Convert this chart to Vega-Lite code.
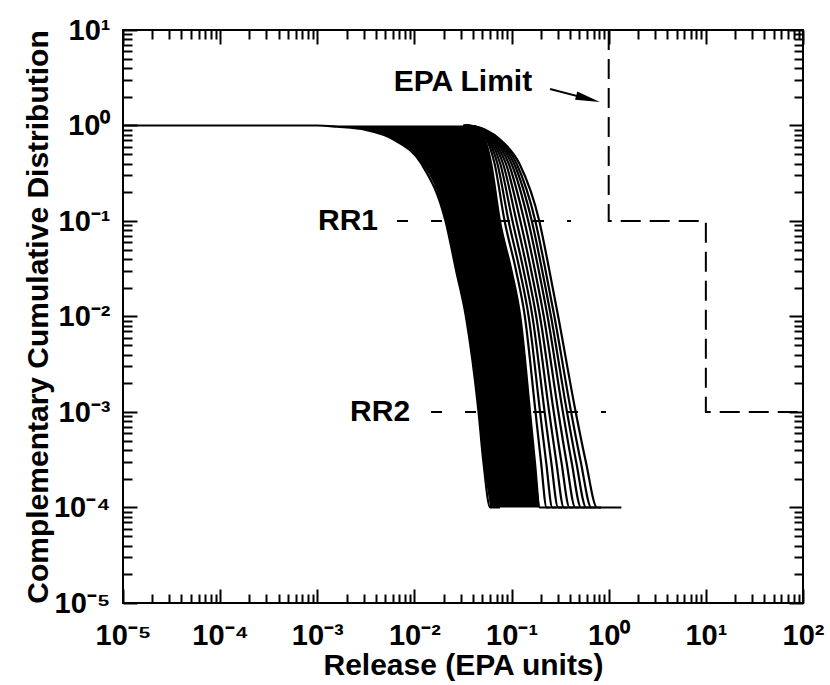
{
  "$schema": "https://vega.github.io/schema/vega-lite/v6.json",
  "width": 680,
  "height": 573,
  "autosize": {"type": "none"},
  "padding": {"left": 123, "top": 30, "right": 27, "bottom": 82},
  "background": "white",
  "config": {
    "view": {"stroke": "black", "strokeWidth": 2},
    "font": "Liberation Sans",
    "axis": {"grid": false, "domain": false, "labelColor": "black", "titleColor": "black", "tickColor": "black", "labelFont": "Liberation Sans", "titleFont": "Liberation Sans"}
  },
  "datasets": {
    "band": [
      {"y": 1, "lo": 0.001, "hi": 0.03162},
      {"y": 0.97, "lo": 0.001585, "hi": 0.03981},
      {"y": 0.9, "lo": 0.003162, "hi": 0.04571},
      {"y": 0.7, "lo": 0.00631, "hi": 0.0537},
      {"y": 0.4, "lo": 0.01175, "hi": 0.06166},
      {"y": 0.1, "lo": 0.02089, "hi": 0.07586},
      {"y": 0.03, "lo": 0.02692, "hi": 0.1},
      {"y": 0.01, "lo": 0.03388, "hi": 0.123},
      {"y": 0.001, "lo": 0.04571, "hi": 0.1549},
      {"y": 0.0003, "lo": 0.05129, "hi": 0.1738},
      {"y": 0.0001, "lo": 0.06026, "hi": 0.195}
    ],
    "curves": [
      {"c": "L", "x": 0.00001, "y": 1}, {"c": "L", "x": 0.001, "y": 1}, {"c": "L", "x": 0.001585, "y": 0.97}, {"c": "L", "x": 0.003162, "y": 0.9}, {"c": "L", "x": 0.00631, "y": 0.7}, {"c": "L", "x": 0.01175, "y": 0.4}, {"c": "L", "x": 0.02089, "y": 0.1}, {"c": "L", "x": 0.02692, "y": 0.03}, {"c": "L", "x": 0.03388, "y": 0.01}, {"c": "L", "x": 0.04571, "y": 0.001}, {"c": "L", "x": 0.05129, "y": 0.0003}, {"c": "L", "x": 0.06026, "y": 0.0001}, {"c": "L", "x": 0.07586, "y": 0.0001},
      {"c": "M", "x": 0.03162, "y": 1}, {"c": "M", "x": 0.03981, "y": 0.97}, {"c": "M", "x": 0.04571, "y": 0.9}, {"c": "M", "x": 0.0537, "y": 0.7}, {"c": "M", "x": 0.06166, "y": 0.4}, {"c": "M", "x": 0.07586, "y": 0.1}, {"c": "M", "x": 0.1, "y": 0.03}, {"c": "M", "x": 0.123, "y": 0.01}, {"c": "M", "x": 0.1549, "y": 0.001}, {"c": "M", "x": 0.1738, "y": 0.0003}, {"c": "M", "x": 0.195, "y": 0.0001}, {"c": "M", "x": 0.2455, "y": 0.0001},
      {"c": "s1", "x": 0.0321, "y": 1}, {"c": "s1", "x": 0.0403, "y": 0.97}, {"c": "s1", "x": 0.0466, "y": 0.9}, {"c": "s1", "x": 0.0561, "y": 0.7}, {"c": "s1", "x": 0.0668, "y": 0.4}, {"c": "s1", "x": 0.0848, "y": 0.1}, {"c": "s1", "x": 0.1114, "y": 0.03}, {"c": "s1", "x": 0.137, "y": 0.01}, {"c": "s1", "x": 0.1764, "y": 0.001}, {"c": "s1", "x": 0.2009, "y": 0.0003}, {"c": "s1", "x": 0.2295, "y": 0.0001}, {"c": "s1", "x": 0.2892, "y": 0.0001},
      {"c": "s2", "x": 0.0324, "y": 1}, {"c": "s2", "x": 0.0406, "y": 0.97}, {"c": "s2", "x": 0.0474, "y": 0.9}, {"c": "s2", "x": 0.0582, "y": 0.7}, {"c": "s2", "x": 0.0714, "y": 0.4}, {"c": "s2", "x": 0.0931, "y": 0.1}, {"c": "s2", "x": 0.1219, "y": 0.03}, {"c": "s2", "x": 0.1499, "y": 0.01}, {"c": "s2", "x": 0.1965, "y": 0.001}, {"c": "s2", "x": 0.2267, "y": 0.0003}, {"c": "s2", "x": 0.2629, "y": 0.0001}, {"c": "s2", "x": 0.3313, "y": 0.0001},
      {"c": "s3", "x": 0.0328, "y": 1}, {"c": "s3", "x": 0.041, "y": 0.97}, {"c": "s3", "x": 0.0481, "y": 0.9}, {"c": "s3", "x": 0.0604, "y": 0.7}, {"c": "s3", "x": 0.0764, "y": 0.4}, {"c": "s3", "x": 0.1022, "y": 0.1}, {"c": "s3", "x": 0.1333, "y": 0.03}, {"c": "s3", "x": 0.164, "y": 0.01}, {"c": "s3", "x": 0.219, "y": 0.001}, {"c": "s3", "x": 0.2559, "y": 0.0003}, {"c": "s3", "x": 0.3012, "y": 0.0001}, {"c": "s3", "x": 0.3795, "y": 0.0001},
      {"c": "s4", "x": 0.0332, "y": 1}, {"c": "s4", "x": 0.0414, "y": 0.97}, {"c": "s4", "x": 0.0489, "y": 0.9}, {"c": "s4", "x": 0.0627, "y": 0.7}, {"c": "s4", "x": 0.0816, "y": 0.4}, {"c": "s4", "x": 0.1122, "y": 0.1}, {"c": "s4", "x": 0.1458, "y": 0.03}, {"c": "s4", "x": 0.1794, "y": 0.01}, {"c": "s4", "x": 0.244, "y": 0.001}, {"c": "s4", "x": 0.2887, "y": 0.0003}, {"c": "s4", "x": 0.345, "y": 0.0001}, {"c": "s4", "x": 0.4347, "y": 0.0001},
      {"c": "s5", "x": 0.0336, "y": 1}, {"c": "s5", "x": 0.0418, "y": 0.97}, {"c": "s5", "x": 0.0497, "y": 0.9}, {"c": "s5", "x": 0.065, "y": 0.7}, {"c": "s5", "x": 0.0873, "y": 0.4}, {"c": "s5", "x": 0.1232, "y": 0.1}, {"c": "s5", "x": 0.1595, "y": 0.03}, {"c": "s5", "x": 0.1963, "y": 0.01}, {"c": "s5", "x": 0.2719, "y": 0.001}, {"c": "s5", "x": 0.3258, "y": 0.0003}, {"c": "s5", "x": 0.3952, "y": 0.0001}, {"c": "s5", "x": 0.498, "y": 0.0001},
      {"c": "s6", "x": 0.034, "y": 1}, {"c": "s6", "x": 0.0422, "y": 0.97}, {"c": "s6", "x": 0.0505, "y": 0.9}, {"c": "s6", "x": 0.0675, "y": 0.7}, {"c": "s6", "x": 0.0933, "y": 0.4}, {"c": "s6", "x": 0.1353, "y": 0.1}, {"c": "s6", "x": 0.1745, "y": 0.03}, {"c": "s6", "x": 0.2147, "y": 0.01}, {"c": "s6", "x": 0.303, "y": 0.001}, {"c": "s6", "x": 0.3677, "y": 0.0003}, {"c": "s6", "x": 0.4527, "y": 0.0001}, {"c": "s6", "x": 0.5704, "y": 0.0001},
      {"c": "s7", "x": 0.0344, "y": 1}, {"c": "s7", "x": 0.0425, "y": 0.97}, {"c": "s7", "x": 0.0513, "y": 0.9}, {"c": "s7", "x": 0.07, "y": 0.7}, {"c": "s7", "x": 0.0997, "y": 0.4}, {"c": "s7", "x": 0.1485, "y": 0.1}, {"c": "s7", "x": 0.1909, "y": 0.03}, {"c": "s7", "x": 0.2348, "y": 0.01}, {"c": "s7", "x": 0.3376, "y": 0.001}, {"c": "s7", "x": 0.415, "y": 0.0003}, {"c": "s7", "x": 0.5187, "y": 0.0001}, {"c": "s7", "x": 0.6536, "y": 0.0001},
      {"c": "s8", "x": 0.0347, "y": 1}, {"c": "s8", "x": 0.0429, "y": 0.97}, {"c": "s8", "x": 0.0521, "y": 0.9}, {"c": "s8", "x": 0.0724, "y": 0.7}, {"c": "s8", "x": 0.106, "y": 0.4}, {"c": "s8", "x": 0.1615, "y": 0.1}, {"c": "s8", "x": 0.207, "y": 0.03}, {"c": "s8", "x": 0.2546, "y": 0.01}, {"c": "s8", "x": 0.3721, "y": 0.001}, {"c": "s8", "x": 0.4627, "y": 0.0003}, {"c": "s8", "x": 0.586, "y": 0.0001}, {"c": "s8", "x": 0.7384, "y": 0.0001},
      {"c": "s9", "x": 0.0351, "y": 1}, {"c": "s9", "x": 0.0433, "y": 0.97}, {"c": "s9", "x": 0.0528, "y": 0.9}, {"c": "s9", "x": 0.0748, "y": 0.7}, {"c": "s9", "x": 0.1125, "y": 0.4}, {"c": "s9", "x": 0.1756, "y": 0.1}, {"c": "s9", "x": 0.2244, "y": 0.03}, {"c": "s9", "x": 0.2761, "y": 0.01}, {"c": "s9", "x": 0.4102, "y": 0.001}, {"c": "s9", "x": 0.5159, "y": 0.0003}, {"c": "s9", "x": 0.6622, "y": 0.0001}, {"c": "s9", "x": 0.8344, "y": 0.0001},
      {"c": "R", "x": 0.0355, "y": 1}, {"c": "R", "x": 0.0437, "y": 0.97}, {"c": "R", "x": 0.0537, "y": 0.9}, {"c": "R", "x": 0.0776, "y": 0.7}, {"c": "R", "x": 0.1202, "y": 0.4}, {"c": "R", "x": 0.1928, "y": 0.1}, {"c": "R", "x": 0.2455, "y": 0.03}, {"c": "R", "x": 0.302, "y": 0.01}, {"c": "R", "x": 0.4571, "y": 0.001}, {"c": "R", "x": 0.5821, "y": 0.0003}, {"c": "R", "x": 0.7586, "y": 0.0001}, {"c": "R", "x": 1.35, "y": 0.0001}
    ],
    "epa": [
      {"o": 1, "x": 1, "y": 10},
      {"o": 2, "x": 1, "y": 0.1},
      {"o": 3, "x": 10, "y": 0.1},
      {"o": 4, "x": 10, "y": 0.001},
      {"o": 5, "x": 100, "y": 0.001}
    ],
    "rr": [
      {"name": "RR1", "x": 0.00662, "x2": 0.409, "y": 0.1},
      {"name": "RR2", "x": 0.01483, "x2": 0.937, "y": 0.001}
    ],
    "labels": [
      {"text": "EPA Limit", "x": 0.0316, "y": 2.85},
      {"text": "RR1", "x": 0.00207, "y": 0.1},
      {"text": "RR2", "x": 0.00443, "y": 0.001}
    ],
    "arrow": [
      {"o": 1, "x": 0.249, "y": 2.41},
      {"o": 2, "x": 0.612, "y": 1.9}
    ],
    "arrowhead": [
      {"x": 0.612, "y": 1.9}
    ]
  },
  "layer": [
    {
      "data": {"name": "band"},
      "mark": {"type": "area", "orient": "horizontal", "interpolate": "monotone", "color": "black", "opacity": 1},
      "encoding": {
        "y": {"field": "y", "type": "quantitative", "scale": {"type": "log", "domain": [0.00001, 10], "nice": false},
          "axis": {"orient": "left", "values": [0.00001, 0.0001, 0.001, 0.01, 0.1, 1, 10], "ticks": false, "labelPadding": 13, "labelFontSize": 29, "labelFontWeight": "bold", "labelOverlap": false, "labelFlush": false,
            "labelExpr": "'10' + ['⁻⁵','⁻⁴','⁻³','⁻²','⁻¹','⁰','¹','²'][round(log(datum.value)/LN10)+5]",
            "title": "Complementary Cumulative Distribution", "titleFontSize": 30, "titleFontWeight": "bold", "titlePadding": 0}},
        "x": {"field": "lo", "type": "quantitative", "scale": {"type": "log", "domain": [0.00001, 100], "nice": false},
          "axis": {"orient": "bottom", "values": [0.00001, 0.0001, 0.001, 0.01, 0.1, 1, 10, 100], "ticks": false, "labelPadding": 18, "labelFontSize": 29, "labelFontWeight": "bold", "labelOverlap": false, "labelFlush": false,
            "labelExpr": "'10' + ['⁻⁵','⁻⁴','⁻³','⁻²','⁻¹','⁰','¹','²'][round(log(datum.value)/LN10)+5]",
            "title": "Release (EPA units)", "titleFontSize": 30, "titleFontWeight": "bold", "titlePadding": 0}},
        "x2": {"field": "hi"}
      }
    },
    {
      "data": {"name": "curves"},
      "mark": {"type": "line", "interpolate": "monotone", "color": "black", "strokeWidth": 2.2},
      "encoding": {
        "x": {"field": "x", "type": "quantitative", "scale": {"type": "log", "domain": [0.00001, 100], "nice": false},
          "axis": {"orient": "bottom", "values": [0.00001, 0.0001, 0.001, 0.01, 0.1, 1, 10, 100], "labels": false, "tickSize": -14, "tickWidth": 2, "title": null}},
        "y": {"field": "y", "type": "quantitative", "scale": {"type": "log", "domain": [0.00001, 10], "nice": false},
          "axis": {"orient": "left", "values": [0.00001, 0.0001, 0.001, 0.01, 0.1, 1, 10], "labels": false, "tickSize": -14, "tickWidth": 2, "title": null}},
        "detail": {"field": "c", "type": "nominal"}
      }
    },
    {
      "data": {"name": "epa"},
      "mark": {"type": "line", "color": "black", "strokeWidth": 2, "strokeDash": [20, 9]},
      "encoding": {
        "x": {"field": "x", "type": "quantitative", "scale": {"type": "log", "domain": [0.00001, 100], "nice": false},
          "axis": {"orient": "bottom", "values": [0.00002, 0.00003, 0.00004, 0.00005, 0.00006, 0.00007, 0.00008, 0.00009, 0.0002, 0.0003, 0.0004, 0.0005, 0.0006, 0.0007, 0.0008, 0.0009, 0.002, 0.003, 0.004, 0.005, 0.006, 0.007, 0.008, 0.009, 0.02, 0.03, 0.04, 0.05, 0.06, 0.07, 0.08, 0.09, 0.2, 0.3, 0.4, 0.5, 0.6, 0.7, 0.8, 0.9, 2, 3, 4, 5, 6, 7, 8, 9, 20, 30, 40, 50, 60, 70, 80, 90], "labels": false, "tickSize": -9, "tickWidth": 2, "title": null}},
        "y": {"field": "y", "type": "quantitative", "scale": {"type": "log", "domain": [0.00001, 10], "nice": false},
          "axis": {"orient": "left", "values": [0.00002, 0.00003, 0.00004, 0.00005, 0.00006, 0.00007, 0.00008, 0.00009, 0.0002, 0.0003, 0.0004, 0.0005, 0.0006, 0.0007, 0.0008, 0.0009, 0.002, 0.003, 0.004, 0.005, 0.006, 0.007, 0.008, 0.009, 0.02, 0.03, 0.04, 0.05, 0.06, 0.07, 0.08, 0.09, 0.2, 0.3, 0.4, 0.5, 0.6, 0.7, 0.8, 0.9, 2, 3, 4, 5, 6, 7, 8, 9], "labels": false, "tickSize": -9, "tickWidth": 2, "title": null}},
        "order": {"field": "o", "type": "quantitative"}
      }
    },
    {
      "data": {"name": "rr"},
      "mark": {"type": "rule", "color": "black", "strokeWidth": 2, "strokeDash": [11, 23]},
      "encoding": {
        "x": {"field": "x", "type": "quantitative", "scale": {"type": "log", "domain": [0.00001, 100], "nice": false},
          "axis": {"orient": "top", "values": [0.00001, 0.0001, 0.001, 0.01, 0.1, 1, 10, 100], "labels": false, "tickSize": -14, "tickWidth": 2, "title": null}},
        "x2": {"field": "x2"},
        "y": {"field": "y", "type": "quantitative", "scale": {"type": "log", "domain": [0.00001, 10], "nice": false},
          "axis": {"orient": "right", "values": [0.00001, 0.0001, 0.001, 0.01, 0.1, 1, 10], "labels": false, "tickSize": -14, "tickWidth": 2, "title": null}}
      }
    },
    {
      "data": {"name": "labels"},
      "mark": {"type": "text", "color": "black", "fontSize": 30, "fontWeight": "bold", "font": "Liberation Sans", "align": "center", "baseline": "middle"},
      "encoding": {
        "x": {"field": "x", "type": "quantitative", "scale": {"type": "log", "domain": [0.00001, 100], "nice": false},
          "axis": {"orient": "top", "values": [0.00002, 0.00003, 0.00004, 0.00005, 0.00006, 0.00007, 0.00008, 0.00009, 0.0002, 0.0003, 0.0004, 0.0005, 0.0006, 0.0007, 0.0008, 0.0009, 0.002, 0.003, 0.004, 0.005, 0.006, 0.007, 0.008, 0.009, 0.02, 0.03, 0.04, 0.05, 0.06, 0.07, 0.08, 0.09, 0.2, 0.3, 0.4, 0.5, 0.6, 0.7, 0.8, 0.9, 2, 3, 4, 5, 6, 7, 8, 9, 20, 30, 40, 50, 60, 70, 80, 90], "labels": false, "tickSize": -9, "tickWidth": 2, "title": null}},
        "y": {"field": "y", "type": "quantitative", "scale": {"type": "log", "domain": [0.00001, 10], "nice": false},
          "axis": {"orient": "right", "values": [0.00002, 0.00003, 0.00004, 0.00005, 0.00006, 0.00007, 0.00008, 0.00009, 0.0002, 0.0003, 0.0004, 0.0005, 0.0006, 0.0007, 0.0008, 0.0009, 0.002, 0.003, 0.004, 0.005, 0.006, 0.007, 0.008, 0.009, 0.02, 0.03, 0.04, 0.05, 0.06, 0.07, 0.08, 0.09, 0.2, 0.3, 0.4, 0.5, 0.6, 0.7, 0.8, 0.9, 2, 3, 4, 5, 6, 7, 8, 9], "labels": false, "tickSize": -9, "tickWidth": 2, "title": null}},
        "text": {"field": "text", "type": "nominal"}
      }
    },
    {
      "data": {"name": "arrow"},
      "mark": {"type": "line", "color": "black", "strokeWidth": 2},
      "encoding": {
        "x": {"field": "x", "type": "quantitative", "scale": {"type": "log", "domain": [0.00001, 100], "nice": false}, "axis": null},
        "y": {"field": "y", "type": "quantitative", "scale": {"type": "log", "domain": [0.00001, 10], "nice": false}, "axis": null},
        "order": {"field": "o", "type": "quantitative"}
      }
    },
    {
      "data": {"name": "arrowhead"},
      "mark": {"type": "point", "shape": "M-1,-0.35L1,0L-1,0.35Z", "size": 600, "angle": 15, "filled": true, "color": "black", "opacity": 1},
      "encoding": {
        "x": {"field": "x", "type": "quantitative", "scale": {"type": "log", "domain": [0.00001, 100], "nice": false}, "axis": null},
        "y": {"field": "y", "type": "quantitative", "scale": {"type": "log", "domain": [0.00001, 10], "nice": false}, "axis": null}
      }
    }
  ],
  "resolve": {"axis": {"x": "independent", "y": "independent"}}
}
